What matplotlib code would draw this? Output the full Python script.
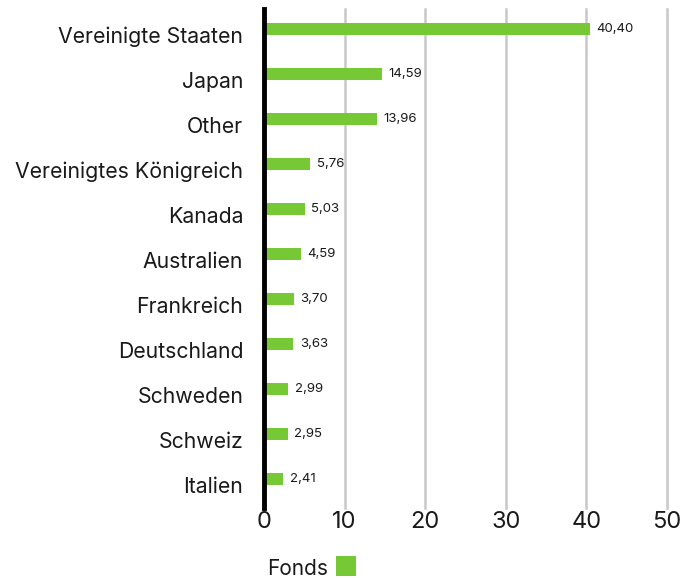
import matplotlib
matplotlib.use("Agg")
import matplotlib.pyplot as plt
import matplotlib.transforms as mtransforms
from matplotlib.patches import Rectangle

categories = ["Vereinigte Staaten", "Japan", "Other", "Vereinigtes Königreich", "Kanada",
              "Australien", "Frankreich", "Deutschland", "Schweden", "Schweiz", "Italien"]
values = [40.40, 14.59, 13.96, 5.76, 5.03, 4.59, 3.70, 3.63, 2.99, 2.95, 2.41]
xticks = [0, 10, 20, 30, 40, 50]
series_name = "Fonds"

plt.rcParams['font.family'] = ['Inter', 'DejaVu Sans']
color = "#76C934"
txt = "#1a1a1a"

fig = plt.figure(figsize=(6.97, 5.78), dpi=100)
ax = fig.add_axes([264/697, 1-508/578, (667-264)/697, 499/578])

y = list(range(len(categories)))
ax.barh(y, values, height=0.27, color=color, zorder=3)
for yi, v in zip(y, values):
    ax.text(v + 0.8, yi, f"{v:.2f}".replace(".", ","), va="center", ha="left",
            fontsize=9.5, color=txt)

ax.set_xlim(0, 50)
ax.set_ylim(10.64, -0.44)
ax.set_yticks(y)
ax.set_yticklabels(categories, fontsize=15.3, color=txt)
ax.set_xticks(xticks)
ax.set_xticklabels([str(t) for t in xticks], fontsize=17, color=txt)
ax.tick_params(axis="both", length=0)
ax.tick_params(axis="y", pad=15)
ax.tick_params(axis="x", pad=2)
offset = mtransforms.ScaledTranslation(0, -6/100, fig.dpi_scale_trans)
for lab in ax.get_yticklabels():
    lab.set_transform(lab.get_transform() + offset)
for s in ["top", "right", "bottom"]:
    ax.spines[s].set_visible(False)
ax.spines["left"].set_linewidth(3.5)
ax.spines["left"].set_color("black")
ax.spines["left"].set_zorder(5)
ax.grid(axis="x", color="#c8c8c8", linewidth=1.8, zorder=0)
for gl in ax.get_xgridlines():
    gl.set_clip_on(False)

# legend
fig.text(267/697, 1-575/578, series_name, fontsize=15, color=txt, ha="left", va="baseline")
fig.patches.append(Rectangle((336/697, 2/578), 20/697, 20/578, transform=fig.transFigure,
                             facecolor=color, edgecolor="none"))

fig.savefig("out.png", dpi=100)
